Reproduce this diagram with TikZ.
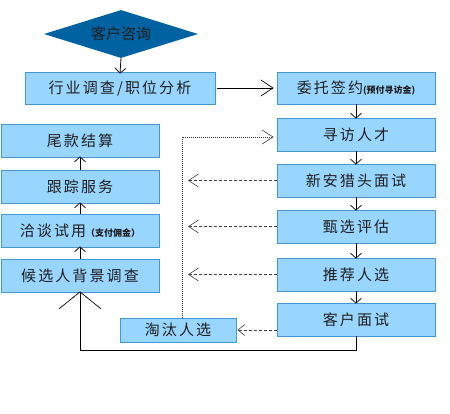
\documentclass[tikz,border=0pt]{standalone}
\usepackage{fontspec}
\setmainfont{Noto Sans CJK SC}
\usetikzlibrary{shapes.geometric,arrows.meta}
\definecolor{boxfill}{RGB}{153,214,255}
\definecolor{boxline}{RGB}{70,150,210}
\definecolor{dia}{RGB}{0,98,160}
\definecolor{txt}{RGB}{30,30,30}
\newcommand{\smtxt}[1]{{\fontsize{9}{10}\selectfont\addfontfeature{LetterSpace=0}\bfseries #1}}
\begin{document}
\begin{tikzpicture}[x=1pt,y=-1pt,
  bx/.style={draw=boxline,line width=0.8pt,fill=boxfill,text=txt,font=\fontsize{15}{17}\selectfont\addfontfeature{LetterSpace=14},inner sep=0pt},
  tip/.style={-{Straight Barb[length=5pt,width=11pt,line width=0.7pt]},line width=0.8pt},
  dsh/.style={densely dashed,draw=black!75,line width=0.8pt,-{Straight Barb[length=10pt,width=13pt,line width=0.6pt]}},
  dot/.style={dash pattern=on 1pt off 1pt,draw=black!75,line width=1pt,-{Straight Barb[length=11pt,width=14pt,line width=0.6pt]}}]
\useasboundingbox (0,0) rectangle (450,413);
\node[diamond,aspect=3.2,fill=dia,minimum width=154pt,minimum height=48pt,inner sep=0pt,text=txt,font=\fontsize{15}{17}\selectfont] (d) at (121,34) {客户咨询};
\node[bx,minimum width=190pt,minimum height=32pt] (a) at (120,88) {行业调查/职位分析};
\node[bx,minimum width=158pt,minimum height=32pt] (r1) at (356,88) {委托签约\smtxt{(预付寻访金)}};
\node[bx,minimum width=158pt,minimum height=33pt] (r2) at (356,134.5) {寻访人才};
\node[bx,minimum width=158pt,minimum height=33pt] (r3) at (356,180.5) {新安猎头面试};
\node[bx,minimum width=158pt,minimum height=33pt] (r4) at (356,226.5) {甄选评估};
\node[bx,minimum width=158pt,minimum height=33pt] (r5) at (356,274.5) {推荐人选};
\node[bx,minimum width=158pt,minimum height=33pt] (r6) at (356,319.5) {客户面试};
\node[bx,minimum width=158pt,minimum height=33pt] (l1) at (80,140.5) {尾款结算};
\node[bx,minimum width=158pt,minimum height=33pt] (l2) at (80,186.5) {跟踪服务};
\node[bx,minimum width=158pt,minimum height=33pt] (l3) at (80,230.5) {洽谈试用\smtxt{（支付佣金）}};
\node[bx,minimum width=158pt,minimum height=33pt] (l4) at (80,275.5) {候选人背景调查};
\node[bx,minimum width=116pt,minimum height=24pt] (t) at (178,330) {淘汰人选};
\coordinate (c1) at (182,137);
\coordinate (c3) at (188,180.5);
\coordinate (c4) at (188,226.5);
\coordinate (c5) at (188,274.5);
\coordinate (b1) at (356,350);
\coordinate (b2) at (80,350);
\draw[tip] (d.south) -- ([yshift=-2pt]a.north);
\draw[-{Straight Barb[length=12pt,width=16pt,line width=0.7pt]},line width=0.8pt] ([xshift=2pt]a.east) -- ([xshift=-3pt]r1.west);
\draw[tip] (r1.south) -- ([yshift=-1pt]r2.north);
\draw[tip] (r2.south) -- ([yshift=-1pt]r3.north);
\draw[tip] (r3.south) -- ([yshift=-1pt]r4.north);
\draw[tip] (r4.south) -- ([yshift=-1pt]r5.north);
\draw[tip] (r5.south) -- ([yshift=-1pt]r6.north);
\draw[tip] (l4.north) -- ([yshift=1pt]l3.south);
\draw[tip] (l3.north) -- ([yshift=1pt]l2.south);
\draw[tip] (l2.north) -- ([yshift=1pt]l1.south);
\draw[dot] (t.north -| c1) -- (c1) -- ([xshift=-3pt]r2.west |- c1);
\draw[dsh] (r3.west) -- (c3);
\draw[dsh] (r4.west) -- (c4);
\draw[dsh] (r5.west) -- (c5);
\draw[densely dashed,draw=black!75,line width=0.8pt,-{Straight Barb[length=7pt,width=11pt,line width=0.6pt]}] (r6.west |- t.east) -- ([xshift=1pt]t.east);
\draw[line width=1pt,-{Straight Barb[length=17pt,width=42pt,line width=0.7pt]}] (r6.south) -- (b1) -- (b2) -- ([yshift=1pt]l4.south);
\end{tikzpicture}
\end{document}
